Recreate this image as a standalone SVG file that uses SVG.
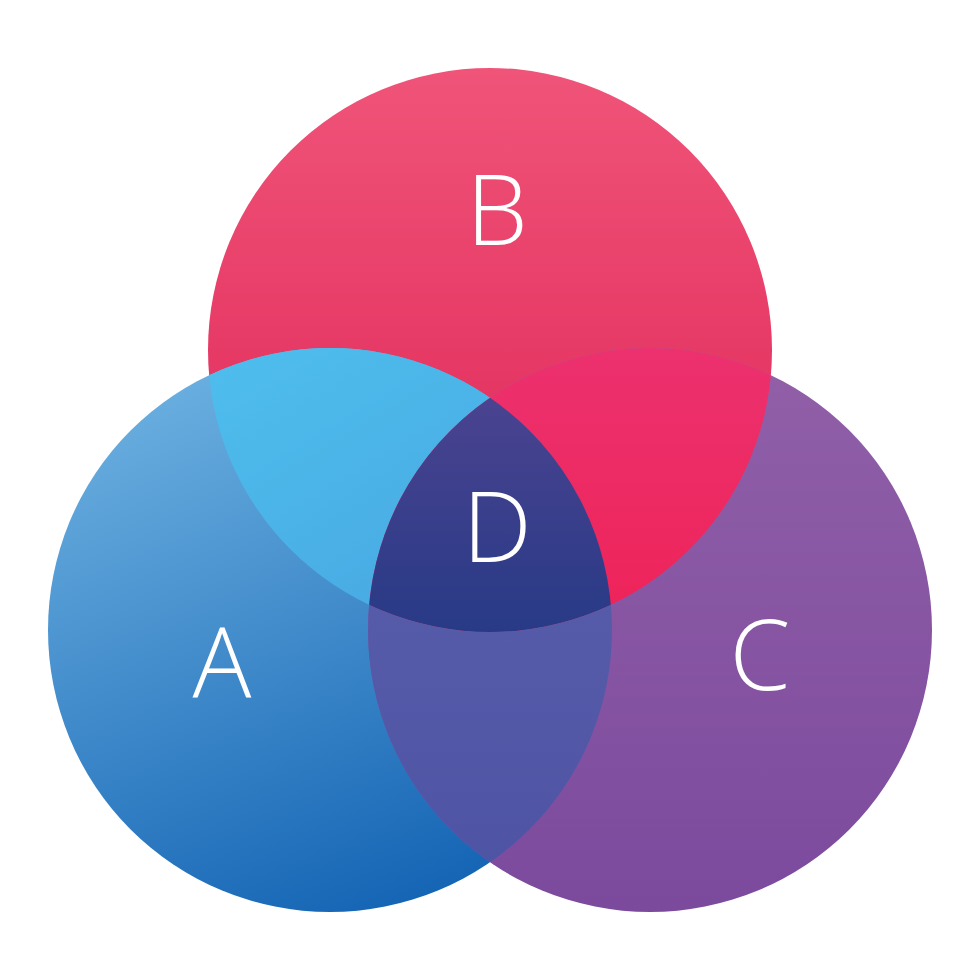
<svg xmlns="http://www.w3.org/2000/svg" width="980" height="980" viewBox="0 0 980 980">
<defs>
<linearGradient id="gB" x1="0" y1="0" x2="0" y2="1"><stop offset="0" stop-color="#f05479"/><stop offset="1" stop-color="#dd2153"/></linearGradient>
<linearGradient id="gA" x1="0.2" y1="0" x2="0.6" y2="1"><stop offset="0" stop-color="#6fb3e2"/><stop offset="1" stop-color="#1565b5"/></linearGradient>
<linearGradient id="gC" x1="0" y1="0" x2="0" y2="1"><stop offset="0" stop-color="#9160a8"/><stop offset="1" stop-color="#7c4a9d"/></linearGradient>
<linearGradient id="gAB" x1="0" y1="0" x2="0.6" y2="1"><stop offset="0" stop-color="#52cdf5"/><stop offset="1" stop-color="#47a5e0"/></linearGradient>
<linearGradient id="gBC" x1="0" y1="0" x2="0" y2="1"><stop offset="0" stop-color="#ea3f85"/><stop offset="1" stop-color="#ee2358"/></linearGradient>
<linearGradient id="gAC" x1="0" y1="0" x2="0" y2="1"><stop offset="0" stop-color="#5d62ae"/><stop offset="1" stop-color="#4d53a3"/></linearGradient>
<linearGradient id="gD" x1="0" y1="0" x2="0" y2="1"><stop offset="0" stop-color="#7a509f"/><stop offset="1" stop-color="#283a86"/></linearGradient>
<clipPath id="cA"><circle cx="330" cy="630" r="282"/></clipPath>
<clipPath id="cC"><circle cx="650" cy="630" r="282"/></clipPath>
<clipPath id="cAC" clip-path="url(#cA)"><circle cx="650" cy="630" r="282"/></clipPath>
</defs>
<style>text{font-family:"Open Sans","Liberation Sans",sans-serif;font-weight:300;font-size:98px;fill:#fff;text-anchor:middle}</style>
<rect width="980" height="980" fill="#fff"/>
<g id="B"><circle cx="490" cy="350" r="282" fill="url(#gB)"/></g>
<g id="A"><circle cx="330" cy="630" r="282" fill="url(#gA)"/></g>
<g id="C"><circle cx="650" cy="630" r="282" fill="url(#gC)"/></g>
<g id="AC"><circle cx="650" cy="630" r="282" fill="url(#gAC)" clip-path="url(#cA)"/></g>
<g id="AB"><circle cx="490" cy="350" r="282" fill="url(#gAB)" clip-path="url(#cA)"/></g>
<g id="BC"><circle cx="490" cy="350" r="282" fill="url(#gBC)" clip-path="url(#cC)"/></g>
<g id="D"><circle cx="490" cy="350" r="282" fill="url(#gD)" clip-path="url(#cAC)"/></g>
<text x="497" y="245">B</text>
<text x="497" y="562">D</text>
<text x="222" y="698">A</text>
<text x="760" y="690">C</text>
</svg>
